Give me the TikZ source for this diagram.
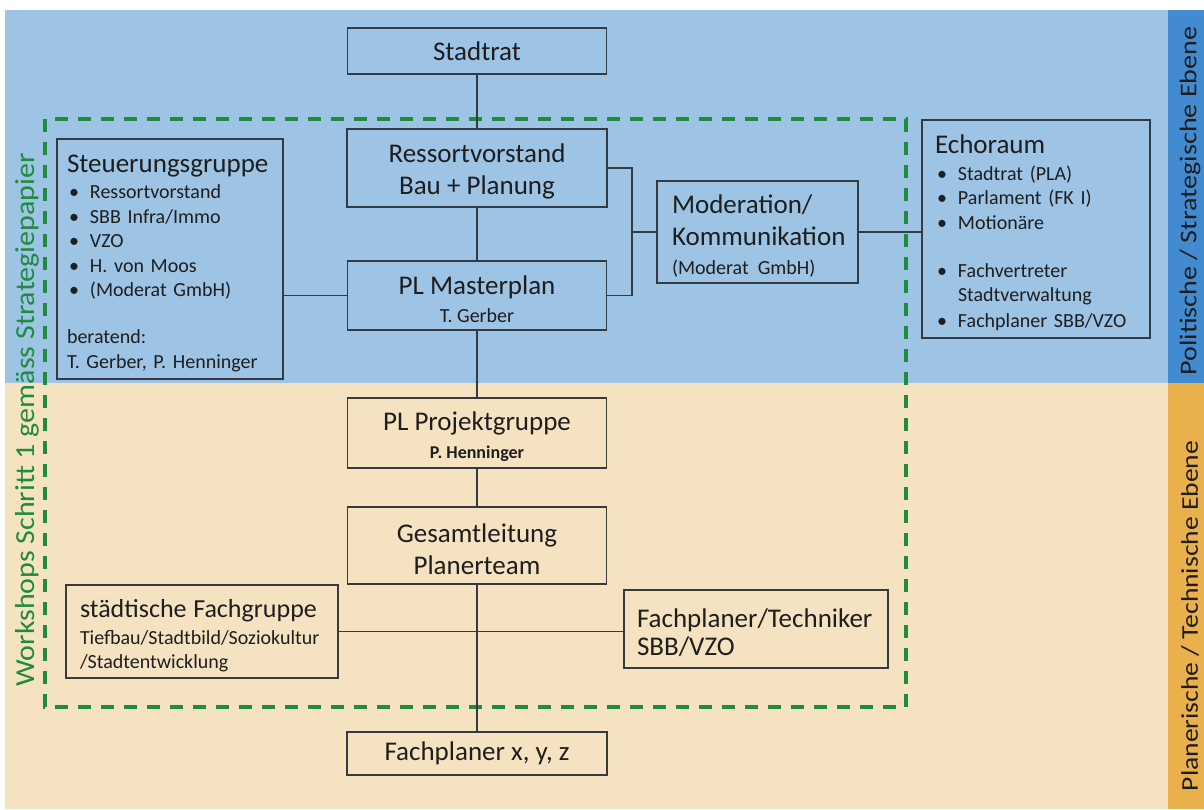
\documentclass[tikz,border=0pt]{standalone}
\usepackage{fontspec}
\setmainfont{Carlito}
\usetikzlibrary{positioning}

\definecolor{bgblue}{HTML}{9DC3E5}
\definecolor{bgbeige}{HTML}{F5E2C0}
\definecolor{stripblue}{HTML}{438BD0}
\definecolor{striporange}{HTML}{E9B04C}
\definecolor{wsgreen}{HTML}{1E8C3C}
\definecolor{boxline}{HTML}{353A40}
\definecolor{txt}{HTML}{1E1E1E}

\newcommand{\ttl}{\fontsize{27}{32}\selectfont}
\newcommand{\sml}{\fontsize{20}{24.5}\selectfont}
\newcommand{\itm}{\hspace*{2pt}\makebox[21pt][l]{\textbullet}}
\newcommand{\topstrut}{\rule{0pt}{26pt}}

\tikzset{
  orgbox/.style={draw=boxline, line width=1.3pt, text=txt, inner sep=0pt, align=center, font=\ttl},
  listbox/.style={orgbox, align=left, inner ysep=0pt},
  conn/.style={draw=boxline, line width=1.3pt},
  wsline/.style={draw=wsgreen, line width=3.2pt, dash pattern=on 13pt off 10pt},
  levellabel/.style={rotate=90, text=txt, font=\fontsize{24}{28}\selectfont}
}

\begin{document}
\begin{tikzpicture}[x=1pt,y=-1pt]
  \useasboundingbox (0,0) rectangle (1204,809);
  \fill[white] (0,0) rectangle (1204,809);
  \fill[bgblue] (5,10) rectangle (1168,383);
  \fill[bgbeige] (5,383) rectangle (1168,809);
  \fill[stripblue] (1168,10) rectangle (1204,383);
  \fill[striporange] (1168,383) rectangle (1204,809);

  \node[levellabel] (polit) at (1190,201) {\scalebox{1.17}[1]{Politische / Strategische Ebene}};
  \node[levellabel] (techlevel) at (1190,616) {\scalebox{1.15}[1]{Planerische / Technische Ebene}};

  \draw[wsline] (45,119) rectangle (906,707);
  \node[rotate=90, text=wsgreen, font=\fontsize{27.5}{32}\selectfont] (wslabel) at (27,420)
    {\scalebox{1.09}[1]{Workshops Schritt 1 gemäss Strategiepapier}};

  \node[orgbox, minimum width=259pt, minimum height=46pt] (stadtrat) at (477,51) {Stadtrat};
  \node[orgbox, minimum width=260pt, minimum height=78pt] (ressort) at (477,168)
    {\topstrut Ressortvorstand\\Bau + Planung};
  \node[orgbox, minimum width=259pt, minimum height=69pt] (master) at (477,295.5)
    {\topstrut PL Masterplan\\[-4pt]{\sml T. Gerber}};
  \node[orgbox, minimum width=259pt, minimum height=70pt] (projekt) at (477,433)
    {\topstrut PL Projektgruppe\\[-4pt]{\fontsize{18}{20}\selectfont\bfseries P. Henninger}};
  \node[orgbox, minimum width=259pt, minimum height=77pt] (gesamt) at (477,545.5)
    {\topstrut Gesamtleitung\\Planerteam};
  \node[orgbox, minimum width=260pt, minimum height=43pt] (fachxyz) at (477,753.5)
    {Fachplaner x, y, z};

  \node[listbox, font=\sml, inner xsep=10pt, text width=206pt, minimum height=240pt] (steuer) at (170,259)
    {{\ttl\topstrut Steuerungsgruppe}\\[2pt]
     \itm Ressortvorstand\\
     \itm SBB Infra/Immo\\
     \itm VZO\\
     \itm H. von Moos\\
     \itm (Moderat GmbH)\\[22pt]
     beratend:\\[1pt]
     T. Gerber, P. Henninger};
  \node[listbox, inner xsep=15pt, text width=171pt, minimum height=102pt] (moder) at (757.5,232)
    {\topstrut Moderation/\\Kommunikation\\[-3pt]{\sml (Moderat GmbH)}};
  \node[listbox, font=\sml, inner xsep=13pt, text width=202pt, minimum height=218pt] (echo) at (1036,229)
    {{\ttl\topstrut Echoraum}\\[2.5pt]
     \itm Stadtrat (PLA)\\
     \itm Parlament (FK I)\\
     \itm Motionäre\\[23.5pt]
     \itm Fachvertreter\\
     \hspace*{23pt}Stadtverwaltung\\[1.5pt]
     \itm Fachplaner SBB/VZO};
  \node[listbox, font=\sml, inner xsep=14pt, text width=244pt, minimum height=93pt] (fachgr) at (202,631.5)
    {{\fontsize{26}{32}\selectfont\topstrut\mbox{städtische Fachgruppe}}\\[2.5pt]
     Tiefbau/Stadtbild/Soziokultur\\
     /Stadtentwicklung};
  \node[listbox, inner xsep=13pt, text width=238pt, minimum height=78pt] (techn) at (756,629)
    {\topstrut Fachplaner/Techniker\\[-4pt]SBB/VZO};

  \coordinate (knick) at (632,232);
  \begin{scope}[conn]
    \draw (stadtrat) -- (ressort) -- (master) -- (projekt) -- (gesamt) -- (fachxyz);
    \draw (master.west) -- (steuer.east |- master.west);
    \draw (ressort.east) -| (knick) |- (master.east);
    \draw (knick) -- (moder.west);
    \draw (moder.east) -- (echo.west |- moder.east);
    \draw (fachgr.east) -- (techn.west |- fachgr.east);
  \end{scope}
\end{tikzpicture}
\end{document}
